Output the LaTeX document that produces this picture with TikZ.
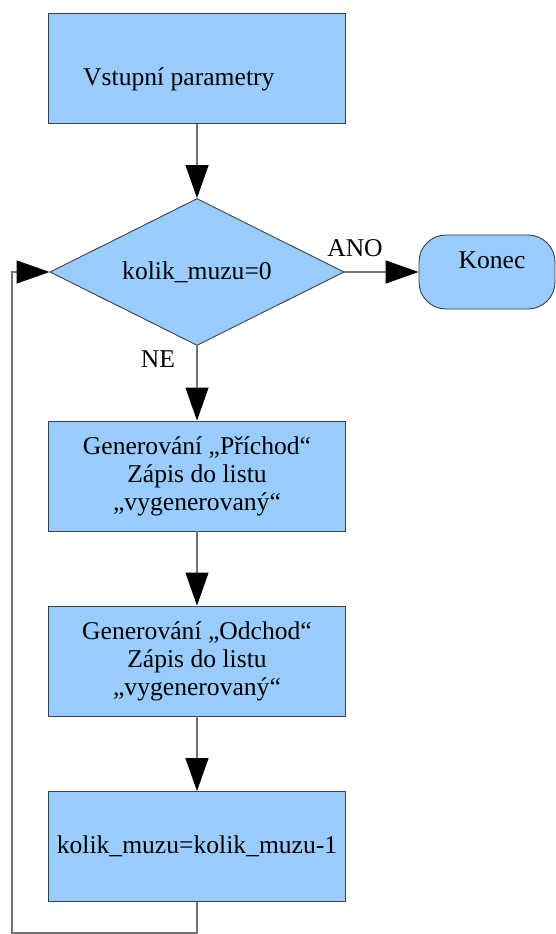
\documentclass[tikz,border=0pt]{standalone}
\usepackage{fontspec}
\setmainfont{Liberation Serif}
\usetikzlibrary{shapes.geometric,arrows.meta}
\definecolor{boxblue}{RGB}{153,204,255}
\begin{document}
\begin{tikzpicture}[x=1pt,y=-1pt,
  font=\fontsize{25.6pt}{28pt}\selectfont,
  box/.style={draw=black!75, fill=boxblue, line width=0.9pt, minimum width=297pt, minimum height=110pt, inner sep=0pt, align=center},
  cond/.style={diamond, draw=black!75, fill=boxblue, line width=0.9pt, minimum width=294pt, minimum height=147pt, shape aspect=2, inner sep=0pt},
  term/.style={draw=black!75, fill=boxblue, line width=0.9pt, rounded corners=27pt, minimum width=136pt, minimum height=74pt, inner sep=0pt},
  txt/.style={inner sep=0pt},
  flow/.style={draw=black!55, line width=1.2pt, -{Triangle[length=33pt,width=23pt,color=black]}}]
  \useasboundingbox (0,0) rectangle (555,934);
  \node[box] (vstup) at (197,68.5) {};
  \node[txt, anchor=base west] (vstuptxt) at (83,85) {Vstupní parametry};
  \node[cond] (podminka) at (197,272) {kolik\_muzu=0};
  \node[term] (konec) at (487,272) {};
  \node[txt, anchor=base] (konectxt) at (492,268) {Konec};
  \node[box] (prichod) at (197,476) {Generování „Příchod“\\Zápis do listu\\„vygenerovaný“};
  \node[box] (odchod) at (197,661) {Generování „Odchod“\\Zápis do listu\\„vygenerovaný“};
  \node[box] (snizeni) at (197,846.5) {kolik\_muzu=kolik\_muzu-1};
  \coordinate (zpet) at (12,933);
  \draw[flow] (vstup.south) -- (podminka.north);
  \draw[flow] (podminka.east) -- (konec.west);
  \node[txt] (ano) at (355,248) {ANO};
  \draw[flow] (podminka.south) -- (prichod.north);
  \node[txt] (ne) at (158,359) {NE};
  \draw[flow] (prichod.south) -- (odchod.north);
  \draw[flow] (odchod.south) -- (snizeni.north);
  \draw[flow] (snizeni.south) |- (zpet) |- (podminka.west);
\end{tikzpicture}
\end{document}
